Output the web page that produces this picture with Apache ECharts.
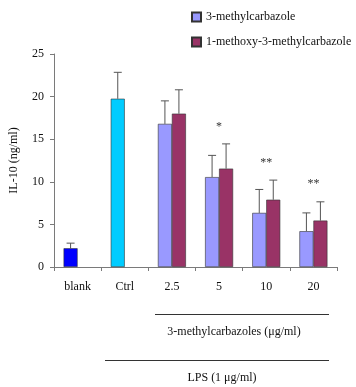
<!DOCTYPE html>
<html>
<head>
<meta charset="utf-8">
<script src="https://cdn.jsdelivr.net/npm/echarts@6/dist/echarts.min.js"></script>
<style>
html, body { margin: 0; padding: 0; background: #fff; }
#chart { width: 356px; height: 387px; }
</style>
</head>
<body>
<div id="chart"></div>
<script>
var categories = ['blank', 'Ctrl', '2.5', '5', '10', '20'];
var seriesNames = ['3-methylcarbazole', '1-methoxy-3-methylcarbazole'];
var methylValues = [2.2, 19.75, 16.8, 10.55, 6.35, 4.2];
var methylErrTop = [2.8, 22.85, 19.5, 13.1, 9.1, 6.35];
var methoxyValues = ['-', '-', 18.0, 11.55, 7.9, 5.45];
var methoxyErrTop = ['-', '-', 20.8, 14.45, 10.2, 7.65];
var stars = [[3, 16.4, '*'], [4, 12.2, '**'], [5, 9.8, '**']];

var font = '"Liberation Serif", "Times New Roman", serif';
var axisGray = '#7a7a7a';
var barW = 14;

var methylData = methylValues.map(function (v, i) {
    if (i === 0) return { value: v, itemStyle: { color: '#0000ff' } };
    if (i === 1) return { value: v, itemStyle: { color: '#00ccff' } };
    return v;
});

function errorSeries(tops, values, shift) {
    var data = [];
    for (var i = 0; i < tops.length; i++) {
        if (tops[i] !== '-') data.push([i, values[i], tops[i]]);
    }
    return {
        type: 'custom',
        data: data,
        z: 1,
        silent: true,
        renderItem: function (params, api) {
            var base = api.coord([api.value(0), api.value(1)]);
            var top = api.coord([api.value(0), api.value(2)]);
            var x = base[0] + shift;
            return {
                type: 'group',
                children: [
                    { type: 'line', shape: { x1: x, y1: base[1], x2: x, y2: top[1] }, style: { stroke: '#555', lineWidth: 1 } },
                    { type: 'line', shape: { x1: x - 4, y1: top[1], x2: x + 4, y2: top[1] }, style: { stroke: '#555', lineWidth: 1 } }
                ]
            };
        }
    };
}

var chart = echarts.init(document.getElementById('chart'));
chart.setOption({
    animation: false,
    textStyle: { fontFamily: font },
    grid: { left: 49, right: 19, top: 54, bottom: 120 },
    legend: {
        orient: 'vertical',
        left: 186,
        top: 6,
        icon: 'rect',
        itemWidth: 9,
        itemHeight: 9,
        itemGap: 13,
        data: seriesNames,
        textStyle: { fontFamily: font, fontSize: 12, color: '#111' }
    },
    xAxis: {
        type: 'category',
        data: categories,
        axisLine: { lineStyle: { color: axisGray } },
        axisTick: { show: true, length: 4, lineStyle: { color: axisGray } },
        axisLabel: { margin: 14, fontSize: 12, color: '#111', fontFamily: font }
    },
    yAxis: {
        type: 'value',
        min: 0,
        max: 25,
        interval: 5,
        name: 'IL-10 (ng/ml)',
        nameLocation: 'middle',
        nameGap: 34,
        nameRotate: 90,
        nameTextStyle: { fontSize: 12, color: '#111', fontFamily: font },
        axisLine: { show: true, lineStyle: { color: axisGray } },
        axisTick: { show: true, length: 4, lineStyle: { color: axisGray } },
        splitLine: { show: false },
        axisLabel: { margin: 10, fontSize: 12, color: '#111', fontFamily: font }
    },
    series: [
        {
            name: seriesNames[0],
            type: 'bar',
            data: methylData,
            barWidth: barW,
            barGap: '0%',
            z: 2,
            itemStyle: { color: '#9999ff', borderColor: '#333', borderWidth: 0.6 }
        },
        {
            name: seriesNames[1],
            type: 'bar',
            data: methoxyValues,
            barWidth: barW,
            barGap: '0%',
            z: 2,
            itemStyle: { color: '#993366', borderColor: '#333', borderWidth: 0.6 }
        },
        errorSeries(methylErrTop, methylValues, -barW / 2),
        errorSeries(methoxyErrTop, methoxyValues, barW / 2),
        {
            type: 'custom',
            data: stars,
            silent: true,
            renderItem: function (params, api) {
                var p = api.coord([api.value(0), api.value(1)]);
                return {
                    type: 'text',
                    style: {
                        x: p[0], y: p[1], text: stars[params.dataIndex][2],
                        textAlign: 'center', textVerticalAlign: 'middle',
                        fontSize: 12, fontFamily: font, fill: '#333'
                    }
                };
            }
        }
    ],
    graphic: [
        { type: 'line', shape: { x1: 155, y1: 314.5, x2: 329, y2: 314.5 }, style: { stroke: '#333', lineWidth: 1 } },
        { type: 'text', x: 234, y: 332, style: { text: '3-methylcarbazoles (μg/ml)', textAlign: 'center', textVerticalAlign: 'middle', fontSize: 12, fontFamily: font, fill: '#111' } },
        { type: 'line', shape: { x1: 105, y1: 360.5, x2: 329, y2: 360.5 }, style: { stroke: '#333', lineWidth: 1 } },
        { type: 'text', x: 222, y: 378, style: { text: 'LPS (1 μg/ml)', textAlign: 'center', textVerticalAlign: 'middle', fontSize: 12, fontFamily: font, fill: '#111' } }
    ]
});
</script>
</body>
</html>
